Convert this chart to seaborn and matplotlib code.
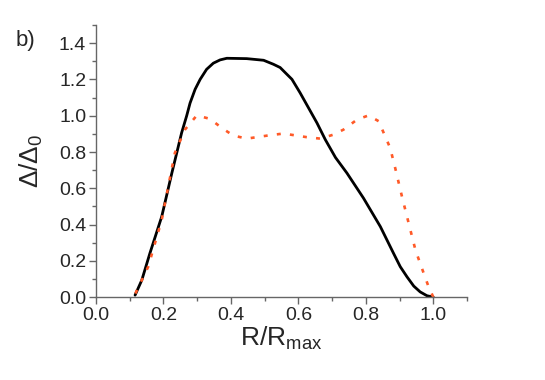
import matplotlib
matplotlib.use("Agg")
import matplotlib.pyplot as plt
import seaborn as sns
import pandas as pd
from matplotlib.ticker import MultipleLocator

# Data
black_x = [0.116, 0.136, 0.160, 0.195, 0.225, 0.254, 0.269, 0.279, 0.294, 0.309, 0.328,
           0.348, 0.368, 0.388, 0.447, 0.497, 0.526, 0.546, 0.561, 0.581, 0.605, 0.655,
           0.680, 0.710, 0.744, 0.793, 0.843, 0.882, 0.902, 0.922, 0.942, 0.961, 0.981, 1.0]
black_y = [0.011, 0.094, 0.242, 0.444, 0.684, 0.906, 1.000, 1.070, 1.146, 1.201, 1.256,
           1.290, 1.308, 1.317, 1.315, 1.306, 1.284, 1.266, 1.238, 1.201, 1.127, 0.961,
           0.868, 0.770, 0.684, 0.546, 0.389, 0.242, 0.168, 0.112, 0.061, 0.029, 0.008, 0.0]

red_x = [0.117, 0.155, 0.195, 0.234, 0.264, 0.299, 0.338, 0.373, 0.407, 0.447, 0.516,
         0.556, 0.625, 0.665, 0.704, 0.734, 0.774, 0.808, 0.838, 0.872, 0.887, 0.907,
         0.922, 0.947, 0.961, 0.986, 1.0]
red_y = [0.02, 0.168, 0.426, 0.795, 0.924, 1.002, 0.983, 0.933, 0.891, 0.874, 0.893,
         0.902, 0.882, 0.874, 0.896, 0.924, 0.979, 1.002, 0.970, 0.823, 0.712, 0.555,
         0.444, 0.260, 0.186, 0.057, 0.0]

x_ticks = [0.0, 0.2, 0.4, 0.6, 0.8, 1.0]
y_ticks = [0.0, 0.2, 0.4, 0.6, 0.8, 1.0, 1.2, 1.4]

sns.set_style("ticks")
plt.rcParams['font.family'] = ['Liberation Sans', 'DejaVu Sans']
plt.rcParams['mathtext.fontset'] = 'custom'
plt.rcParams['mathtext.rm'] = 'Liberation Sans'
plt.rcParams['mathtext.it'] = 'Liberation Sans'

fig = plt.figure(figsize=(5.45, 3.8), dpi=100)
ax = fig.add_axes([0.176, 0.218, 0.681, 0.716])

df_b = pd.DataFrame({"x": black_x, "y": black_y})
df_r = pd.DataFrame({"x": red_x, "y": red_y})
sns.lineplot(data=df_b, x="x", y="y", ax=ax, color="black", linewidth=2.0, sort=False)
sns.lineplot(data=df_r, x="x", y="y", ax=ax, color="#ff5a28", linewidth=1.9,
             linestyle=(0, (1.5, 3.5)), sort=False)

ax.set_xlim(0, 1.1)
ax.set_ylim(0, 1.5)
ax.set_xticks(x_ticks)
ax.set_yticks(y_ticks)
ax.set_xticklabels([f"{v:.1f}" for v in x_ticks])
ax.set_yticklabels([f"{v:.1f}" for v in y_ticks])
ax.xaxis.set_minor_locator(MultipleLocator(0.1))
ax.yaxis.set_minor_locator(MultipleLocator(0.1))
ax.tick_params(which='major', length=5, width=1, color='#666666', labelsize=14, pad=2)
ax.tick_params(which='minor', length=3, width=1, color='#666666')
for s in ['top', 'right']:
    ax.spines[s].set_visible(False)
for s in ['left', 'bottom']:
    ax.spines[s].set_color('#666666')
    ax.spines[s].set_linewidth(1)

ax.set_xlabel(r"R/R$_{\mathrm{max}}$", fontsize=19, labelpad=1)
ax.set_ylabel(r"$\Delta$/$\Delta_0$", fontsize=19, labelpad=10)
fig.text(0.028, 0.88, "b)", fontsize=16)

fig.savefig("out.png", dpi=100)
